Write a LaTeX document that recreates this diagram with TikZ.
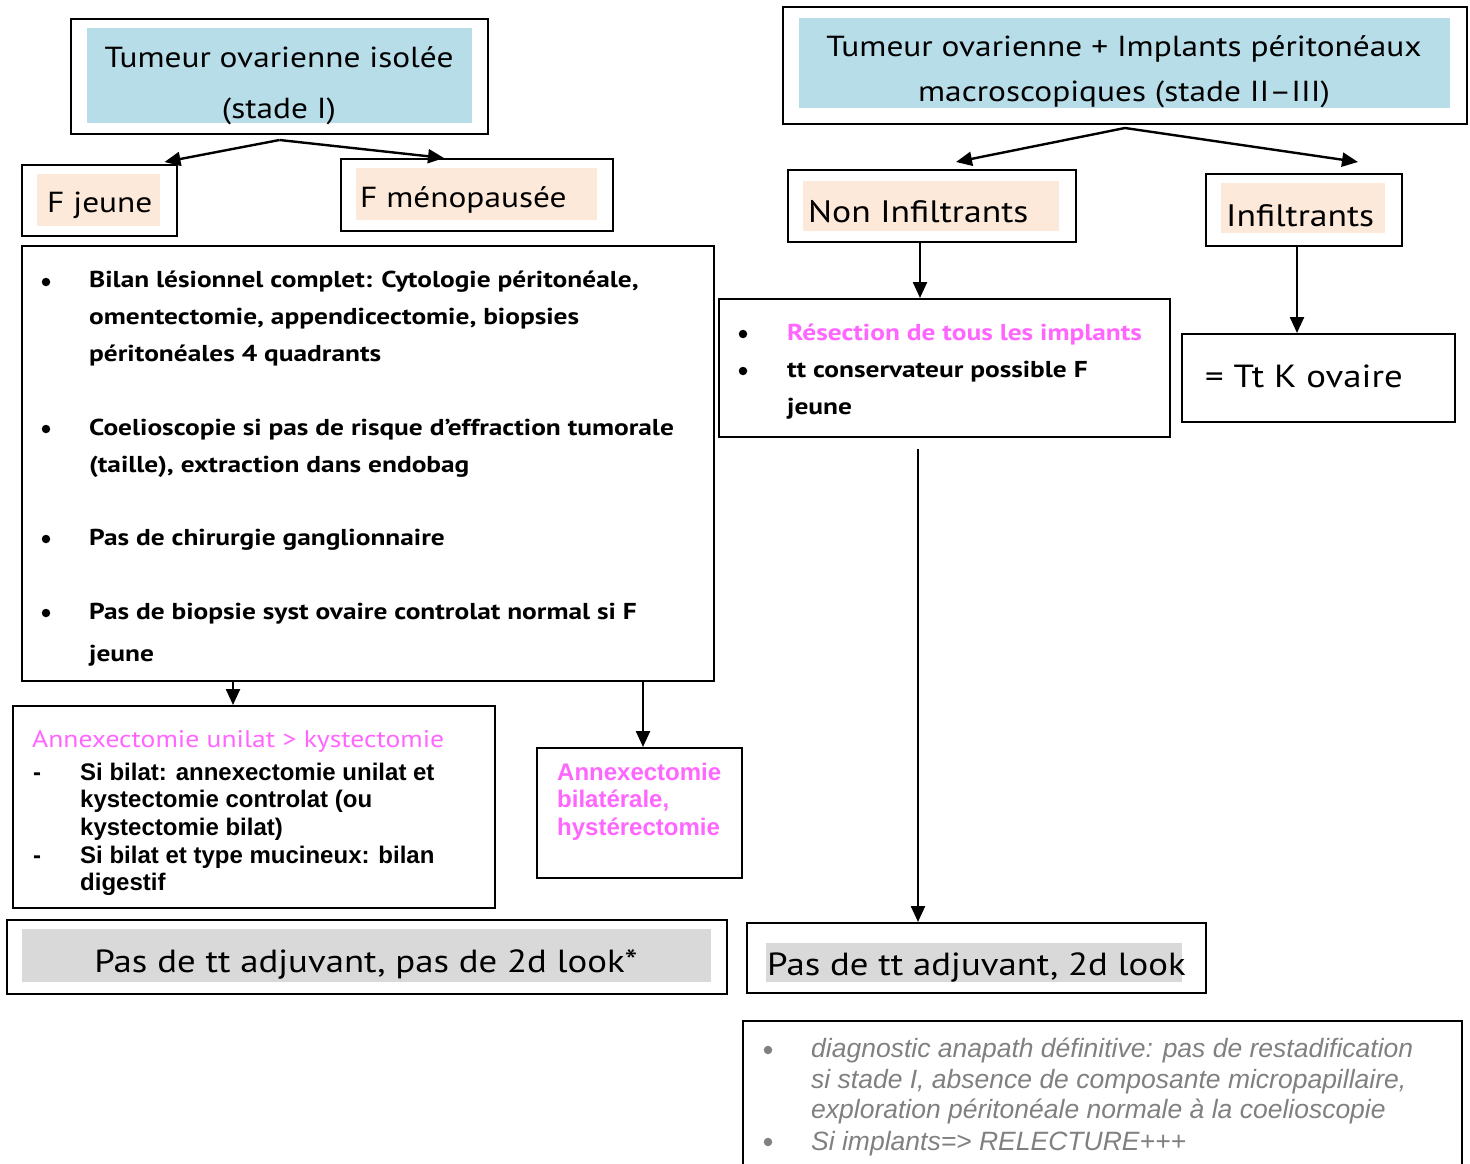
\documentclass[tikz,border=0pt]{standalone}
\usepackage{fontspec}
\setmainfont{PT Sans}
\newfontfamily\ptwide[FakeStretch=1.15]{PT Sans}
\newfontfamily\ptbold[FakeStretch=1.19]{PT Sans}
\newfontfamily\arialfont{Liberation Sans}
\usetikzlibrary{arrows.meta}
\definecolor{titleblue}{HTML}{B7DDE8}
\definecolor{peach}{HTML}{FDE9D9}
\definecolor{greyband}{HTML}{D9D9D9}
\definecolor{pinktxt}{HTML}{FF66FF}
\definecolor{greytxt}{HTML}{808080}
\begin{document}
\begin{tikzpicture}[x=1pt,y=-1pt,
  box/.style={draw=black, line width=2pt, inner sep=0pt, anchor=north west},
  arr/.style={-{Triangle[length=16pt,width=14pt]}, line width=2.4pt},
  txt/.style={inner sep=0pt, anchor=mid west},
  ctxt/.style={inner sep=0pt, anchor=mid},
  ttl/.style={font=\ptwide\fontsize{29}{34}\selectfont, yshift=-8pt},
  big/.style={font=\ptwide\fontsize{31}{36}\selectfont, yshift=-9pt},
  huge/.style={font=\ptwide\fontsize{32}{36}\selectfont, yshift=-9pt},
  bld/.style={font=\ptbold\bfseries\fontsize{23}{28}\selectfont, yshift=-6pt},
  preg/.style={font=\ptwide\fontsize{24}{28}\selectfont, yshift=-6pt},
  abld/.style={font=\arialfont\bfseries\fontsize{24}{28}\selectfont, yshift=-6pt},
  ait/.style={font=\arialfont\itshape\fontsize{26.5}{30}\selectfont, text=greytxt, yshift=-7pt},
  dot/.style={circle, fill, inner sep=0pt, minimum size=8.5pt}
]
\useasboundingbox (0,0) rectangle (1470,1164);
\clip (0,0) rectangle (1470,1164);

% ---------- left branch: stage I ----------
\node[box, minimum width=417, minimum height=115] (A) at (70,18) {};
\fill[titleblue] (87,28) rectangle (472,123);
\node[ctxt, ttl] (a1) at (279,57) {Tumeur ovarienne isolée};
\node[ctxt, ttl] (a2) at (279,108) {(stade I)};

\node[box, minimum width=155, minimum height=71] (Fj) at (21,164) {};
\fill[peach] (37,174) rectangle (160,226);
\node[txt, ttl] (fj) at (47,202) {F jeune};

\node[box, minimum width=272, minimum height=72] (Fm) at (340,158) {};
\fill[peach] (356,168) rectangle (597,220);
\node[txt, ttl] (fm) at (360,197) {F ménopausée};

\draw[arr] ([yshift=-5pt]A.south) -- ([xshift=65pt,yshift=2pt]Fj.north);
\draw[arr] ([yshift=-5pt]A.south) -- ([xshift=-33pt]Fm.north);

% work-up box
\node[box, minimum width=692, minimum height=435] (W) at (21,245) {};
\foreach \yy/\nm in {282/b1,429/b2,539/b3,613/b4}
  \node[dot] (\nm) at (46,\yy) {};
\node[txt, bld] (w1) at (89,279) {Bilan lésionnel complet: Cytologie péritonéale,};
\node[txt, bld] (w2) at (89,316) {omentectomie, appendicectomie, biopsies};
\node[txt, bld] (w3) at (89,353) {péritonéales 4 quadrants};
\node[txt, bld] (w4) at (89,427) {Coelioscopie si pas de risque d’effraction tumorale};
\node[txt, bld] (w5) at (89,464) {(taille), extraction dans endobag};
\node[txt, bld] (w6) at (89,537) {Pas de chirurgie ganglionnaire};
\node[txt, bld] (w7) at (89,611) {Pas de biopsie syst ovaire controlat normal si F};
\node[txt, bld] (w8) at (89,653) {jeune};

% young woman
\node[box, minimum width=482, minimum height=202] (U) at (12,705) {};
\node[txt, preg, text=pinktxt] (u0) at (32,739) {Annexectomie unilat > kystectomie};
\node[txt, abld] (d1) at (33,772) {-};
\node[txt, abld] (d2) at (33,855) {-};
\node[txt, abld] (u1) at (80,772) {Si bilat: annexectomie unilat et};
\node[txt, abld] (u2) at (80,799) {kystectomie controlat (ou};
\node[txt, abld] (u3) at (80,827) {kystectomie bilat)};
\node[txt, abld] (u4) at (80,855) {Si bilat et type mucineux: bilan};
\node[txt, abld] (u5) at (80,882) {digestif};

% post-menopausal woman
\node[box, minimum width=205, minimum height=130] (Bi) at (536,747) {};
\node[txt, abld, text=pinktxt] (bi1) at (557,772) {Annexectomie};
\node[txt, abld, text=pinktxt] (bi2) at (557,799) {bilatérale,};
\node[txt, abld, text=pinktxt] (bi3) at (557,827) {hystérectomie};

\draw[arr] ([xshift=-21pt]W.south -| U.north) -- ([xshift=-21pt]U.north);
\draw[arr] ([xshift=3.5pt]W.south -| Bi.north) -- ([xshift=3.5pt]Bi.north);

% conclusion left
\node[box, minimum width=720, minimum height=74] (P1) at (6,919) {};
\fill[greyband] (22,929) rectangle (711,982);
\node[ctxt, huge] (p1) at (366,961) {Pas de tt adjuvant, pas de 2d look*};

% ---------- right branch: stage II-III ----------
\node[box, minimum width=684, minimum height=117] (B) at (782,6) {};
\fill[titleblue] (799,18) rectangle (1450,108);
\node[ctxt, ttl] (bt1) at (1124,46) {Tumeur ovarienne + Implants péritonéaux};
\node[ctxt, ttl] (bt2) at (1124,91) {macroscopiques (stade II–III)};

\node[box, minimum width=288, minimum height=72] (NI) at (787,169) {};
\fill[peach] (803,181) rectangle (1059,231);
\node[txt, big] (ni) at (808,211) {Non Infiltrants};

\node[box, minimum width=196, minimum height=72] (IN) at (1205,173) {};
\fill[peach] (1221,183) rectangle (1385,233);
\node[txt, big] (in) at (1226,215) {Infiltrants};

\draw[arr] ([yshift=-3pt]B.south) -- ([xshift=24pt,yshift=7pt]NI.north);
\draw[arr] ([yshift=-3pt]B.south) -- ([xshift=54pt,yshift=11pt]IN.north);

\node[box, minimum width=451, minimum height=138] (R) at (718,298) {};
\node[dot] (rb1) at (743,334) {};
\node[dot] (rb2) at (743,371) {};
\node[txt, bld, text=pinktxt] (r1) at (787,332) {Résection de tous les implants};
\node[txt, bld] (r2) at (787,369) {tt conservateur possible F};
\node[txt, bld] (r3) at (787,406) {jeune};

\node[box, minimum width=273, minimum height=88] (K) at (1181,333) {};
\node[txt, huge] (k) at (1205,376) {= Tt K ovaire};

\draw[arr] ([xshift=-12pt]NI.south) -- ([xshift=-12pt]NI.south |- R.north);
\draw[arr] ([xshift=-7pt]IN.south) -- ([xshift=-7pt]IN.south |- K.north);

\node[box, minimum width=459, minimum height=70] (P2) at (746,922) {};
\fill[greyband] (766,943) rectangle (1182,982);
\node[txt, huge] (p2) at (767,964) {Pas de tt adjuvant, 2d look};

\draw[arr] ([xshift=-26.5pt,yshift=-11pt]R.south) -- ([xshift=-26.5pt]R.south |- P2.north);

% final note
\node[box, minimum width=719, minimum height=170] (N) at (742,1020) {};
\node[dot, fill=greytxt] (nb1) at (768,1050) {};
\node[dot, fill=greytxt] (nb2) at (768,1142) {};
\node[txt, ait] (n1) at (811,1048) {diagnostic anapath définitive: pas de restadification};
\node[txt, ait] (n2) at (811,1079) {si stade I, absence de composante micropapillaire,};
\node[txt, ait] (n3) at (811,1109) {exploration péritonéale normale à la coelioscopie};
\node[txt, ait] (n4) at (811,1141) {Si implants=> RELECTURE+++};
\end{tikzpicture}
\end{document}
